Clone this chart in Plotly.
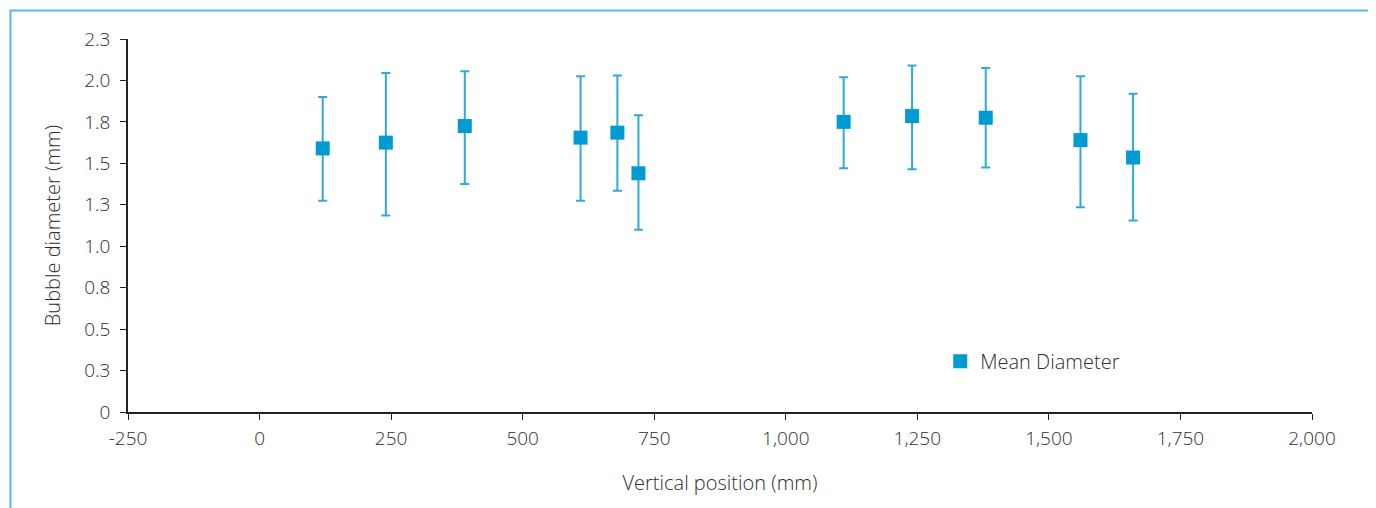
import plotly.graph_objects as go

positions = [120, 240, 390, 610, 680, 720, 1110, 1240, 1380, 1560, 1660]
mean_diameter = [1.59, 1.625, 1.725, 1.655, 1.685, 1.44, 1.75, 1.785, 1.775, 1.64, 1.535]
err_plus = [0.31, 0.42, 0.33, 0.37, 0.345, 0.35, 0.27, 0.305, 0.30, 0.385, 0.385]
err_minus = [0.315, 0.44, 0.35, 0.38, 0.35, 0.34, 0.28, 0.32, 0.30, 0.405, 0.38]

y_tickvals = [0, 0.25, 0.5, 0.75, 1.0, 1.25, 1.5, 1.75, 2.0, 2.25]
y_ticktext = ["0", "0.3", "0.5", "0.8", "1.0", "1.3", "1.5", "1.8", "2.0", "2.3"]
x_tickvals = [-250, 0, 250, 500, 750, 1000, 1250, 1500, 1750, 2000]
x_ticktext = ["-250", "0", "250", "500", "750", "1,000", "1,250", "1,500", "1,750", "2,000"]

blue = "#009BD2"
err_blue = "#2FA9DA"
text_col = "#2e2e2e"
font_family = "Open Sans"
fw = 300

# page body has an 8px margin, so the figure is offset by 8px
L, T = 120, 31
PW, PH = 1184, 373

fig = go.Figure()
fig.add_trace(go.Scatter(
    x=positions, y=mean_diameter, mode="markers", name="Mean Diameter",
    marker=dict(symbol="square", size=14, color=blue),
    error_y=dict(type="data", symmetric=False, array=err_plus, arrayminus=err_minus,
                 color=err_blue, thickness=2, width=4.5),
))

tf = dict(family=font_family, size=20, color=text_col, weight=fw)
tkf = dict(family=font_family, size=19, color=text_col, weight=fw)

fig.update_layout(
    width=1376, height=508,
    margin=dict(l=L, r=1376 - L - PW, t=T, b=508 - T - PH, autoexpand=False),
    paper_bgcolor="white", plot_bgcolor="white",
    font=tf,
    showlegend=True,
    legend=dict(x=0.686, y=0.136, xanchor="left", yanchor="middle",
                bgcolor="rgba(0,0,0,0)", font=tf, itemsizing="trace"),
    xaxis=dict(range=[-250, 2000], tickvals=x_tickvals, ticktext=x_ticktext,
               showgrid=False, zeroline=False, showline=True, linecolor="#222",
               linewidth=1.5, ticks="outside", ticklen=6, tickcolor="#222",
               tickfont=tkf, ticklabelstandoff=2,
               title=dict(text="Vertical position (mm)", standoff=26, font=tf)),
    yaxis=dict(range=[0, 2.25], tickvals=y_tickvals, ticktext=y_ticktext,
               showgrid=False, zeroline=False, showline=True, linecolor="#222",
               linewidth=1.5, ticks="outside", ticklen=6, tickcolor="#222",
               tickfont=tkf, ticklabelstandoff=6,
               title=dict(text="Bubble diameter (mm)", standoff=18, font=tf)),
    shapes=[dict(type="rect", xref="paper", yref="paper",
                 x0=(2.5 - L) / PW, x1=(1362 - L) / PW,
                 y0=-0.4, y1=(T + PH - 2.5) / PH,
                 line=dict(color="#4DBCE6", width=2), fillcolor="rgba(0,0,0,0)",
                 layer="below")],
)

fig.write_html("out.html")
